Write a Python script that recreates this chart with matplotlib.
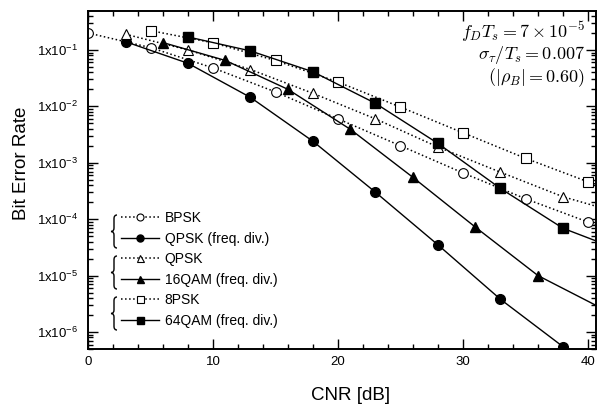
import numpy as np
import matplotlib
matplotlib.use("Agg")
import matplotlib.pyplot as plt
from matplotlib.path import Path
from matplotlib.patches import PathPatch
from matplotlib.ticker import FuncFormatter, LogLocator, MultipleLocator, NullFormatter
from matplotlib.transforms import Affine2D

plt.rcParams['font.family'] = ['Liberation Sans', 'DejaVu Sans']
plt.rcParams['mathtext.fontset'] = 'cm'

# data (CNR in dB, bit error rate)
cnr_bpsk = [0, 5, 10, 15, 20, 25, 30, 35, 40, 45]
ber_bpsk = [0.2, 0.11, 0.048, 0.018, 0.006, 0.002, 6.6e-4, 2.3e-4, 8.9e-5, 3.5e-5]

cnr_qpsk_fd = [3, 8, 13, 18, 23, 28, 33, 38, 43]
ber_qpsk_fd = [0.14, 0.058, 0.0144, 0.0024, 3.0e-4, 3.5e-5, 3.8e-6, 5.5e-7, 8e-8]

cnr_qpsk = [3, 8, 13, 18, 23, 28, 33, 38, 43]
ber_qpsk = [0.19, 0.10, 0.045, 0.017, 0.006, 0.0019, 6.8e-4, 2.5e-4, 1.2e-4]

cnr_16qam = [6, 11, 16, 21, 26, 31, 36, 41]
ber_16qam = [0.135, 0.065, 0.020, 0.0039, 5.5e-4, 7.2e-5, 1.0e-5, 2.7e-6]

cnr_8psk = [5, 10, 15, 20, 25, 30, 35, 40, 45]
ber_8psk = [0.22, 0.134, 0.065, 0.027, 0.0097, 0.0034, 0.0012, 4.6e-4, 2.1e-4]

cnr_64qam = [8, 13, 18, 23, 28, 33, 38, 43]
ber_64qam = [0.17, 0.096, 0.041, 0.0113, 0.0022, 3.5e-4, 6.9e-5, 2.6e-5]

W, H = 597, 404
fig = plt.figure(figsize=(W / 100, H / 100), dpi=100)
ax = fig.add_axes([88 / W, (H - 349) / H, (596 - 88) / W, (349 - 11) / H])

ms = 7.0
open_kw = dict(color='black', linestyle=':', lw=1.1, markerfacecolor='white',
               markeredgecolor='black', markeredgewidth=0.8, markersize=ms)
fill_kw = dict(color='black', linestyle='-', lw=1.0, markersize=ms)

ax.plot(cnr_bpsk, ber_bpsk, marker='o', label='BPSK', **open_kw)
ax.plot(cnr_qpsk_fd, ber_qpsk_fd, marker='o', label='QPSK (freq. div.)', **fill_kw)
ax.plot(cnr_qpsk, ber_qpsk, marker='^', label='QPSK', **open_kw)
ax.plot(cnr_16qam, ber_16qam, marker='^', label='16QAM (freq. div.)', **fill_kw)
ax.plot(cnr_8psk, ber_8psk, marker='s', label='8PSK', **open_kw)
ax.plot(cnr_64qam, ber_64qam, marker='s', label='64QAM (freq. div.)', **fill_kw)

ax.set_yscale('log')
ax.set_xlim(0, 40.64)
ax.set_ylim(5e-7, 0.49)

ax.xaxis.set_major_locator(MultipleLocator(10))
ax.xaxis.set_minor_locator(MultipleLocator(2))
ax.yaxis.set_major_locator(LogLocator(base=10, numticks=20))
ax.yaxis.set_minor_locator(LogLocator(base=10, subs=np.arange(2, 10), numticks=20))
ax.yaxis.set_major_formatter(FuncFormatter(
    lambda v, p: r'$\mathregular{1x10^{%d}}$' % int(round(np.log10(v)))))
ax.yaxis.set_minor_formatter(NullFormatter())

ax.tick_params(which='both', direction='in', top=True, right=True, width=1.0,
               labelsize=9.5)
ax.tick_params(which='major', length=7)
ax.tick_params(which='minor', length=3.5)
ax.tick_params(axis='y', pad=7)
ax.tick_params(axis='x', pad=5)
for s in ax.spines.values():
    s.set_linewidth(1.4)

ax.set_xlabel('CNR [dB]', fontsize=13.5)
ax.set_ylabel('Bit Error Rate', fontsize=13.5)
ax.xaxis.set_label_coords(0.516, -0.112)
ax.yaxis.set_label_coords(-0.115, 0.55)

ax.text(0.978, 0.939, r'$f_D T_s = 7\times10^{-5}$', transform=ax.transAxes,
        ha='right', va='center', fontsize=13)
ax.text(0.978, 0.870, r'$\sigma_\tau / T_s = 0.007$', transform=ax.transAxes,
        ha='right', va='center', fontsize=13)
ax.text(0.978, 0.802, r'$(|\rho_B| = 0.60)$', transform=ax.transAxes,
        ha='right', va='center', fontsize=13)

leg = ax.legend(loc='upper left', bbox_to_anchor=((121 - 88) / 508, (349 - 211) / 338),
                frameon=False, fontsize=10, handlelength=2.7, handletextpad=0.45,
                labelspacing=0.47, markerscale=0.72, borderpad=0, borderaxespad=0)

# curly braces grouping the legend pairs (pixel coords, y from top)
px = Affine2D().scale(1, -1).translate(0, H) + Affine2D().scale(1 / 100) + fig.dpi_scale_trans
def brace(ytop, ybot, xl=111.0, xr=117.0):
    ym = (ytop + ybot) / 2
    xm = (xl + xr) / 2
    verts = [(xr, ytop), (xm, ytop), (xm, ytop + 3.5), (xm, ym - 3.5),
             (xm, ym), (xl, ym), (xm, ym), (xm, ym + 3.5), (xm, ybot - 3.5),
             (xm, ybot), (xr, ybot)]
    codes = [Path.MOVETO, Path.CURVE3, Path.CURVE3, Path.LINETO,
             Path.CURVE3, Path.CURVE3, Path.CURVE3, Path.CURVE3, Path.LINETO,
             Path.CURVE3, Path.CURVE3]
    fig.patches.append(PathPatch(Path(verts, codes), fill=False, lw=1.0,
                                 edgecolor='black', transform=px))

brace(215, 248)
brace(256, 289)
brace(297, 330)

fig.savefig('out.png', dpi=100)
